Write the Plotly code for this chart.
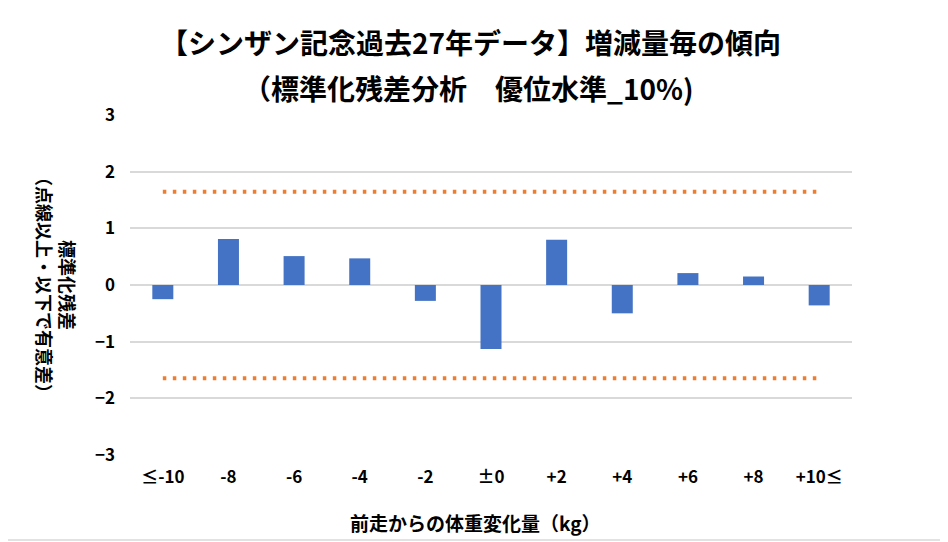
import plotly.graph_objects as go

categories = ["≤-10", "-8", "-6", "-4", "-2", "±0", "+2", "+4", "+6", "+8", "+10≤"]
residuals = [-0.25, 0.81, 0.51, 0.47, -0.28, -1.13, 0.80, -0.50, 0.21, 0.15, -0.36]
threshold_upper = [1.645] * len(categories)
threshold_lower = [-1.645] * len(categories)
y_ticks = [-3, -2, -1, 0, 1, 2, 3]

title_line1 = "【シンザン記念過去27年データ】増減量毎の傾向"
title_line2 = "（標準化残差分析　優位水準_10%)"
x_title = "前走からの体重変化量（kg）"
y_title = "標準化残差<br>（点線以上・以下で有意差）"

FONT = "Noto Sans CJK JP, Liberation Sans, Arial, sans-serif"

# page offset of the figure (body margin)
OFF = 8
PL, PR, PT, PB = 130, 852, 115, 455  # plot area in page pixels


def px_x(px):
    return (px - PL) / (PR - PL)


def px_y(py):
    return (PB - py) / (PB - PT)


fig = go.Figure()
fig.add_trace(go.Bar(x=categories, y=residuals, marker_color="#4472C4",
                     marker_line_width=0, showlegend=False))
for th in (threshold_upper, threshold_lower):
    fig.add_trace(go.Scatter(x=categories, y=th, mode="lines",
                             line=dict(color="#ED7D31", width=4, dash="3.5px,6.5px"),
                             showlegend=False, hoverinfo="skip"))

fig.update_layout(
    width=948 - OFF, height=542 - OFF,
    margin=dict(l=PL - OFF, r=948 - PR, t=PT - OFF, b=542 - PB),
    paper_bgcolor="white", plot_bgcolor="white",
    bargap=0.68,
    font=dict(family=FONT, color="black"),
    xaxis=dict(type="category", showgrid=False, showline=False, ticks="",
               tickfont=dict(size=17, weight="bold", family=FONT), ticklabelstandoff=10),
    yaxis=dict(range=[-3, 3], tickvals=y_ticks, showgrid=True, gridcolor="#d9d9d9",
               gridwidth=1.5, zeroline=True, zerolinecolor="#d9d9d9", zerolinewidth=1.5,
               showline=False, ticks="", tickfont=dict(size=17, weight="bold", family=FONT),
               ticklabelstandoff=14),
    annotations=[
        dict(text=title_line1, x=px_x(470), y=px_y(42), xref="paper", yref="paper",
             xanchor="center", yanchor="middle", showarrow=False,
             font=dict(size=28, weight="bold", family=FONT)),
        dict(text=title_line2, x=px_x(468), y=px_y(88), xref="paper", yref="paper",
             xanchor="center", yanchor="middle", showarrow=False,
             font=dict(size=28, weight="bold", family=FONT)),
        dict(text=x_title, x=px_x(475), y=px_y(522), xref="paper", yref="paper",
             xanchor="center", yanchor="middle", showarrow=False,
             font=dict(size=19, weight="bold", family=FONT)),
        dict(text=y_title, x=px_x(57), y=px_y(285), xref="paper", yref="paper",
             xanchor="center", yanchor="middle", showarrow=False,
             textangle=90, font=dict(size=18, weight="bold", family=FONT)),
    ],
    shapes=[dict(type="rect", xref="paper", yref="paper",
                 x0=px_x(1), x1=px_x(946), y0=px_y(540), y1=px_y(1),
                 line=dict(color="#d9d9d9", width=1.5), layer="below")],
)

fig.write_html("out.html")
